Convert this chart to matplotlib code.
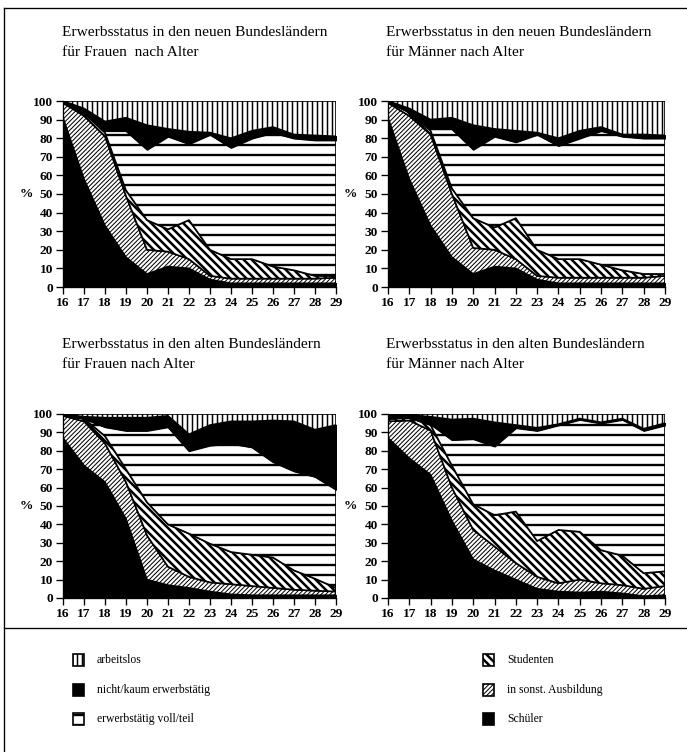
import numpy as np
import matplotlib
matplotlib.use("Agg")
import matplotlib.pyplot as plt
from matplotlib.patches import Rectangle
from matplotlib.lines import Line2D

plt.rcParams['font.family'] = ['Liberation Serif', 'DejaVu Serif']

ages = list(range(16, 30))
yticks = list(range(0, 101, 10))
categories = ["Schüler", "in sonst. Ausbildung", "Studenten",
              "erwerbstätig voll/teil", "nicht/kaum erwerbstätig", "arbeitslos"]

titles = [
    "Erwerbsstatus in den neuen Bundesländern\nfür Frauen  nach Alter",
    "Erwerbsstatus in den neuen Bundesländern\nfür Männer nach Alter",
    "Erwerbsstatus in den alten Bundesländern\nfür Frauen nach Alter",
    "Erwerbsstatus in den alten Bundesländern\nfür Männer nach Alter",
]

# ---- shares (%) per category, ages 16..29 ----
# neue Bundesländer, Frauen
nf_schueler = [91, 58, 33, 16, 7, 11, 10, 4, 2, 2, 2, 2, 2, 2]
nf_ausbildung = [8, 34, 48, 33, 13, 8, 5, 2, 2.5, 2.5, 2.5, 2.5, 2.5, 3]
nf_studenten = [0.5, 1.5, 2, 3, 16, 12, 21, 14, 10.5, 10.5, 6.5, 4.5, 1.5, 1]
nf_erwerb = [0, 0, 1, 32, 38, 50, 41, 62, 60, 65, 72, 71, 73, 73]
nf_nicht = [0.5, 2.5, 5, 7, 13, 4, 6.5, 1, 5, 4, 3, 2, 2.5, 2]
nf_arbeitslos = [0, 4, 11, 9, 13, 15, 16.5, 17, 20, 16, 14, 18, 18.5, 19]

# neue Bundesländer, Männer
nm_schueler = [91, 58, 33, 16, 7, 11, 10, 4, 2, 2, 2, 2, 2, 2]
nm_ausbildung = [8, 34, 49, 34, 14, 9, 5, 2, 3, 3, 3, 3, 3, 4]
nm_studenten = [0.5, 2, 2, 3, 16, 12, 22, 14, 10, 10, 7, 4, 2, 1]
nm_erwerb = [0, 0, 1, 32, 37, 49, 41, 62, 61, 65, 72, 72, 73, 73]
nm_nicht = [0.5, 2, 5, 6, 13, 4, 6, 1, 4, 4, 2, 1, 2, 1.5]
nm_arbeitslos = [0, 4, 10, 9, 13, 15, 16, 17, 20, 16, 14, 18, 18, 18.5]

# alte Bundesländer, Frauen
af_schueler = [87, 72, 63, 43, 10, 7, 5.5, 3.5, 2, 1.5, 1.5, 1.5, 1.5, 1.5]
af_ausbildung = [12, 24, 21, 20, 24, 10, 6, 5, 5.5, 5, 4, 3, 2.5, 2]
af_studenten = [0.5, 1.5, 4, 7, 18, 23, 23.5, 21, 17.5, 17, 16.5, 10.5, 6.5, 2]
af_erwerb = [0, 0, 5, 21, 39, 53, 45, 53.5, 59, 58.5, 52, 54, 55.5, 53.5]
af_nicht = [0.5, 1, 5, 7, 7, 6, 9, 11, 12, 14, 22.5, 27, 25.5, 35]
af_arbeitslos = [0, 1.5, 2, 2, 2, 1, 11, 6, 4, 4, 3.5, 4, 8.5, 6]

# alte Bundesländer, Männer
am_schueler = [87, 76, 67, 42, 21, 15, 10, 5, 3.5, 3, 3.5, 2.5, 1, 1.5]
am_ausbildung = [9, 20.5, 24, 18, 16, 13, 9, 6.5, 4.5, 7, 4.5, 4.5, 4, 5]
am_studenten = [1.5, 1.5, 3, 12, 14, 17, 28, 19.5, 29, 26, 18, 16, 8.5, 8]
am_erwerb = [0, 0, 0.5, 14, 35.5, 37.5, 45.5, 60, 57, 61, 69, 74, 77.5, 79.5]
am_nicht = [2, 1.5, 4, 11, 11, 13, 1.5, 1.5, 0.5, 0.5, 0.5, 0.5, 1, 1]
am_arbeitslos = [0.5, 0.5, 1.5, 3, 2.5, 4.5, 6, 7.5, 5.5, 2.5, 4.5, 2.5, 8, 5]

panels = [
    [nf_schueler, nf_ausbildung, nf_studenten, nf_erwerb, nf_nicht, nf_arbeitslos],
    [nm_schueler, nm_ausbildung, nm_studenten, nm_erwerb, nm_nicht, nm_arbeitslos],
    [af_schueler, af_ausbildung, af_studenten, af_erwerb, af_nicht, af_arbeitslos],
    [am_schueler, am_ausbildung, am_studenten, am_erwerb, am_nicht, am_arbeitslos],
]

# styles: (facecolor, hatch, hatch linewidth)
styles = [
    ("black", None, 1.0),
    ("white", "/////////", 0.6),
    ("white", "\\\\\\\\\\", 1.5),
    ("white", "--", 1.4),
    ("black", None, 1.0),
    ("white", "||||", 0.9),
]

W, H, DPI = 687, 752, 120
fig = plt.figure(figsize=(W / DPI, H / DPI), dpi=DPI)


def fx(px):
    return px / W


def fy(py):
    return 1 - py / H


def add_fill(ax, x, lo, hi, fc, hatch, hlw):
    with plt.rc_context({'hatch.linewidth': hlw}):
        coll = ax.fill_between(x, lo, hi, facecolor=fc, edgecolor='black',
                               hatch=hatch, linewidth=1.0)
        if hasattr(coll, 'set_hatch_linewidth'):
            coll.set_hatch_linewidth(hlw)
    return coll


# axes rectangles in pixels: (left, top, right, bottom)
boxes = [(63, 101, 336, 287), (388, 101, 665, 287),
         (63, 414, 336, 598), (388, 414, 665, 598)]
title_pos = [(62, 42.5), (386, 42.5), (62, 354), (386, 354)]

for i, (series, box) in enumerate(zip(panels, boxes)):
    l, t, r, b = box
    ax = fig.add_axes([fx(l), fy(b), fx(r - l), (b - t) / H])
    data = np.array(series, dtype=float)
    cum = np.vstack([np.zeros(len(ages)), np.cumsum(data, axis=0)])
    for k, (fc, hatch, hlw) in enumerate(styles):
        add_fill(ax, ages, cum[k], cum[k + 1], fc, hatch, hlw)
    ax.set_xlim(ages[0], ages[-1])
    ax.set_ylim(0, 100)
    ax.set_xticks(ages)
    ax.set_yticks(yticks)
    ax.tick_params(axis='both', direction='out', length=4, width=0.8,
                   labelsize=8, pad=2)
    for lab in ax.get_xticklabels() + ax.get_yticklabels():
        lab.set_fontweight('bold')
    for s in ['top', 'right']:
        ax.spines[s].set_visible(False)
    ax.spines['left'].set_linewidth(0.8)
    ax.spines['bottom'].set_linewidth(0.8)
    ax.text(-0.135, 0.5, "%", transform=ax.transAxes, ha='center',
            va='center', fontsize=8, fontweight='bold')
    tx, ty = title_pos[i]
    fig.text(fx(tx), fy(ty), titles[i], ha='left', va='center',
             fontsize=9.2, linespacing=1.7)

# frame lines
fig.add_artist(Line2D([fx(4), fx(4)], [fy(8), fy(752)], color='black', lw=0.8))
fig.add_artist(Line2D([fx(4), fx(687)], [fy(8), fy(8)], color='black', lw=0.8))
fig.add_artist(Line2D([fx(4), fx(687)], [fy(628), fy(628)], color='black', lw=0.8))

# legend
legend_items = [
    (categories[5], styles[5], 73, 660),
    (categories[4], styles[4], 73, 690),
    (categories[3], styles[3], 73, 719),
    (categories[2], styles[2], 483, 660),
    (categories[1], styles[1], 483, 690),
    (categories[0], styles[0], 483, 719),
]
for label, (fc, hatch, hlw), px, py in legend_items:
    with plt.rc_context({'hatch.linewidth': hlw}):
        rect = Rectangle((fx(px), fy(py + 6)), 11 / W, 12 / H,
                         transform=fig.transFigure, facecolor=fc,
                         edgecolor='black', hatch=hatch, linewidth=1.0)
        if hasattr(rect, 'set_hatch_linewidth'):
            rect.set_hatch_linewidth(hlw)
        fig.add_artist(rect)
    fig.text(fx(px + 24), fy(py), label, ha='left', va='center', fontsize=7)

fig.savefig("out.png", dpi=DPI)
